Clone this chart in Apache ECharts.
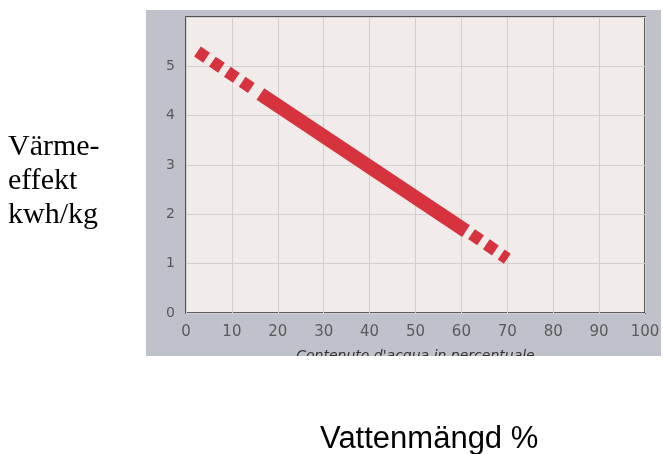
<!DOCTYPE html>
<html>
<head>
<meta charset="utf-8">
<script src="https://cdn.jsdelivr.net/npm/echarts@6/dist/echarts.min.js"></script>
<style>html,body{margin:0;padding:0;background:#fff}#c{width:663px;height:454px}</style>
</head>
<body>
<div id="c"></div>
<script>
var xTicks = [0, 10, 20, 30, 40, 50, 60, 70, 80, 90, 100];
var yTicks = [0, 1, 2, 3, 4, 5];
var dashStart = [[2.5, 5.3], [15.2, 4.5]];
var solidPart = [[16.2, 4.44], [61, 1.66]];
var dashEnd = [[62.2, 1.6], [70, 1.1]];
var yTitle = 'Värme-\neffekt\nkwh/kg';
var xTitle = 'Vattenmängd %';
var xInnerTitle = "Contenuto d'acqua in percentuale";

var red = '#d6333f';
var chart = echarts.init(document.getElementById('c'));
chart.setOption({
  animation: false,
  backgroundColor: '#ffffff',
  grid: { left: 186, top: 17, width: 459, height: 296, show: true,
          backgroundColor: '#f1ecea', borderColor: '#2e2e2e', borderWidth: 1.5 },
  xAxis: { type: 'value', min: 0, max: 100, interval: 10,
    axisLine: { show: false }, axisTick: { show: false },
    axisLabel: { margin: 12, color: '#5a5a5a', fontSize: 15, fontFamily: 'DejaVu Sans',
      formatter: function (v) { return xTicks.indexOf(v) >= 0 ? String(v) : ''; } },
    splitLine: { show: true, lineStyle: { color: '#d2ced2', width: 1 } },
    name: xInnerTitle, nameLocation: 'middle', nameGap: 36,
    nameTextStyle: { fontStyle: 'italic', fontSize: 14, color: '#333', fontFamily: 'DejaVu Sans' }
  },
  yAxis: { type: 'value', min: 0, max: 6, interval: 1,
    axisLine: { show: false }, axisTick: { show: false },
    axisLabel: { margin: 11, color: '#5a5a5a', fontSize: 14, fontFamily: 'DejaVu Sans',
      formatter: function (v) { return yTicks.indexOf(v) >= 0 ? String(v) : ''; } },
    splitLine: { show: true, lineStyle: { color: '#d2ced2', width: 1 } }
  },
  graphic: [
    { type: 'rect', z: -10, silent: true, shape: { x: 146, y: 10, width: 515, height: 346 },
      style: { fill: '#bfc2ca' } },
    { type: 'rect', z: 100, silent: true, shape: { x: 140, y: 356, width: 523, height: 30 },
      style: { fill: '#ffffff' } },
    { type: 'text', z: 100, left: 8, top: 130,
      style: { text: yTitle, font: '30px "Liberation Serif"', fill: '#000', lineHeight: 34 } },
    { type: 'text', z: 100, left: 320, top: 424,
      style: { text: xTitle, font: '31px "Liberation Sans"', fill: '#000' } }
  ],
  series: [
    { type: 'line', data: dashStart, symbol: 'none', silent: true,
      lineStyle: { color: red, width: 12, type: [11, 7], cap: 'butt' } },
    { type: 'line', data: solidPart, symbol: 'none', silent: true,
      lineStyle: { color: red, width: 14, cap: 'butt' } },
    { type: 'line', data: dashEnd, symbol: 'none', silent: true,
      lineStyle: { color: red, width: 12, type: [11, 7], cap: 'butt' } }
  ]
});
</script>
</body>
</html>
